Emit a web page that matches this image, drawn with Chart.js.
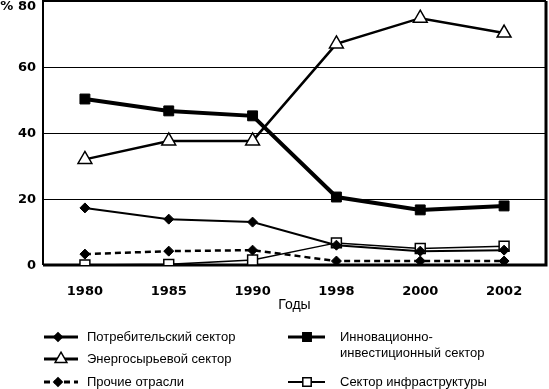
<!DOCTYPE html>
<html>
<head>
<meta charset="utf-8">
<script src="https://cdn.jsdelivr.net/npm/chart.js@4.4.1/dist/chart.umd.min.js"></script>
<style>
  html, body { margin: 0; padding: 0; background: #fff; }
  #wrap { width: 549px; height: 389px; }
</style>
</head>
<body>
<div id="wrap"><canvas id="chart" width="549" height="389"></canvas></div>
<script>
// годы по оси X
const years = ['1980', '1985', '1990', '1998', '2000', '2002'];

// доли секторов, %
const consumer = [17.3, 13.9, 13.0, 6.0, 4.2, 4.5];       // Потребительский сектор
const energy = [32.0, 37.6, 37.6, 67.0, 74.8, 70.3];      // Энергосырьевой сектор
const other = [3.3, 4.2, 4.5, 1.2, 1.2, 1.2];             // Прочие отрасли
const innovation = [50.3, 46.7, 45.2, 20.6, 16.7, 17.9];  // Инновационно-инвестиционный сектор
const infra = [0.0, 0.2, 1.5, 6.7, 5.0, 5.7];             // Сектор инфраструктуры

const yTicks = [0, 20, 40, 60, 80];
const yTickLabels = ['0', '20', '40', '60', '% 80'];
const xTitle = 'Годы';

const boldFont = 'bold 13px "DejaVu Sans"';
const textFont = '13px "Liberation Sans", Arial, sans-serif';

// маркеры для легенды
function marker(ctx, style, x, y, r, fill) {
    ctx.save();
    ctx.setLineDash([]);
    ctx.lineWidth = 1.5;
    ctx.strokeStyle = '#000';
    ctx.fillStyle = fill;
    ctx.beginPath();
    if (style === 'rectRot') {
        ctx.moveTo(x, y - r); ctx.lineTo(x + r, y); ctx.lineTo(x, y + r); ctx.lineTo(x - r, y);
    } else if (style === 'rect') {
        const s = r * Math.SQRT1_2;
        ctx.rect(x - s, y - s, 2 * s, 2 * s);
    } else if (style === 'triangle') {
        const h = r * 1.5, w = r * Math.sqrt(3) / 2;
        ctx.moveTo(x, y - r); ctx.lineTo(x + w, y - r + h); ctx.lineTo(x - w, y - r + h);
    }
    ctx.closePath();
    ctx.fill();
    ctx.stroke();
    ctx.restore();
}

const extras = {
    id: 'extras',
    beforeDatasetsDraw(chart) {
        const { ctx, chartArea: a } = chart;
        ctx.save();
        ctx.strokeStyle = '#000';
        ctx.lineWidth = 2;
        ctx.beginPath();
        ctx.moveTo(a.left, a.bottom); ctx.lineTo(a.left, a.top); ctx.lineTo(a.right, a.top);
        ctx.stroke();
        ctx.lineWidth = 3;
        ctx.beginPath();
        ctx.moveTo(a.right, a.top); ctx.lineTo(a.right, a.bottom); ctx.lineTo(a.left, a.bottom);
        ctx.stroke();
        ctx.restore();
    },
    afterDraw(chart) {
        const { ctx, chartArea: a } = chart;
        const y = chart.scales.y;
        ctx.save();
        ctx.fillStyle = '#000';
        ctx.font = boldFont;
        ctx.textAlign = 'right';
        ctx.textBaseline = 'middle';
        yTicks.forEach((v, i) => {
            const py = Math.max(7, y.getPixelForValue(v) + 1);
            ctx.fillText(yTickLabels[i], 36, py);
        });

        ctx.font = '14px "Liberation Sans", Arial, sans-serif';
        ctx.textAlign = 'center';
        ctx.fillText(xTitle, (a.left + a.right) / 2, 305);

        // легенда
        const ds = chart.data.datasets;
        const items = [
            { d: ds[0], x0: 44, x1: 78, mx: 58, y: 337, tx: 87, text: [ds[0].label] },
            { d: ds[1], x0: 44, x1: 78, mx: 61, y: 359, tx: 87, text: [ds[1].label] },
            { d: ds[2], x0: 44, x1: 78, mx: 58, y: 382, tx: 87, text: [ds[2].label] },
            { d: ds[3], x0: 288, x1: 325, mx: 307, y: 337, tx: 340, text: ['Инновационно-', 'инвестиционный сектор'] },
            { d: ds[4], x0: 288, x1: 325, mx: 307, y: 382, tx: 340, text: [ds[4].label] }
        ];
        ctx.textAlign = 'left';
        ctx.font = textFont;
        items.forEach(it => {
            ctx.save();
            ctx.strokeStyle = '#000';
            ctx.lineWidth = it.d.borderWidth < 2 ? 2 : 3;
            ctx.setLineDash(it.d.borderDash || []);
            ctx.beginPath();
            ctx.moveTo(it.x0, it.y); ctx.lineTo(it.x1, it.y);
            ctx.stroke();
            ctx.restore();
            marker(ctx, it.d.pointStyle, it.mx, it.y, it.d.pointRadius * 0.85, it.d.pointBackgroundColor);
            it.text.forEach((t, k) => ctx.fillText(t, it.tx, it.y + k * 16));
        });
        ctx.restore();
    }
};

new Chart(document.getElementById('chart').getContext('2d'), {
    type: 'line',
    data: {
        labels: years,
        datasets: [
            {
                label: 'Потребительский сектор', data: consumer,
                borderColor: '#000', borderWidth: 2,
                pointStyle: 'rectRot', pointRadius: 5, pointBackgroundColor: '#000', pointBorderColor: '#000', pointBorderWidth: 1,
                tension: 0, order: 3
            },
            {
                label: 'Энергосырьевой сектор', data: energy,
                borderColor: '#000', borderWidth: 2.5,
                pointStyle: 'triangle', pointRadius: 8, pointBackgroundColor: '#fff', pointBorderColor: '#000', pointBorderWidth: 1.5,
                tension: 0, order: 2
            },
            {
                label: 'Прочие отрасли', data: other,
                borderColor: '#000', borderWidth: 2.5, borderDash: [6, 4],
                pointStyle: 'rectRot', pointRadius: 5, pointBackgroundColor: '#000', pointBorderColor: '#000', pointBorderWidth: 1,
                tension: 0, order: 4
            },
            {
                label: 'Инновационно-инвестиционный сектор', data: innovation,
                borderColor: '#000', borderWidth: 4,
                pointStyle: 'rect', pointRadius: 7, pointBackgroundColor: '#000', pointBorderColor: '#000', pointBorderWidth: 1,
                tension: 0, order: 1
            },
            {
                label: 'Сектор инфраструктуры', data: infra,
                borderColor: '#000', borderWidth: 1.5,
                pointStyle: 'rect', pointRadius: 7, pointBackgroundColor: '#fff', pointBorderColor: '#000', pointBorderWidth: 1.5,
                tension: 0, order: 5
            }
        ]
    },
    options: {
        responsive: false,
        animation: false,
        layout: { autoPadding: false, padding: { top: 1, right: 3, bottom: 75, left: 0 } },
        plugins: { legend: { display: false }, tooltip: { enabled: false } },
        scales: {
            x: {
                offset: true,
                grid: { display: false },
                border: { display: false },
                ticks: { color: '#000', font: { family: 'DejaVu Sans', size: 13, weight: 'bold' }, padding: 11, maxRotation: 0 },
                afterFit: s => { s.height = 49; }
            },
            y: {
                min: 0, max: 80,
                ticks: { stepSize: 20, display: false },
                grid: { color: '#000', lineWidth: 1, drawTicks: false },
                border: { display: false },
                afterFit: s => { s.width = 43; }
            }
        }
    },
    plugins: [extras]
});
</script>
</body>
</html>
